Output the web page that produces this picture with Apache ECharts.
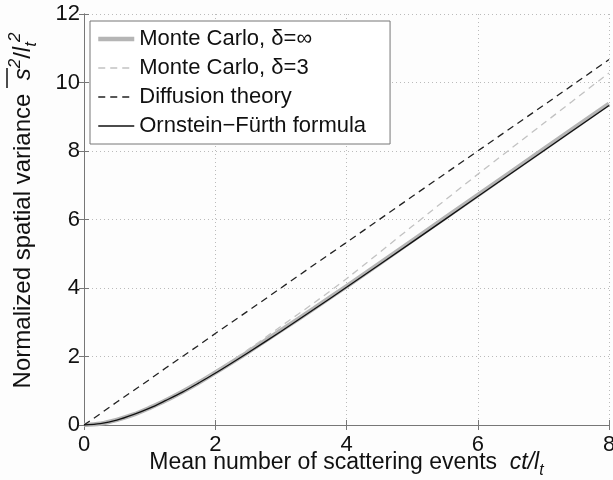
<!DOCTYPE html>
<html>
<head>
<meta charset="utf-8">
<script src="https://cdn.jsdelivr.net/npm/echarts@6/dist/echarts.min.js"></script>
<style>
html,body{margin:0;padding:0;background:#fdfdfd;}
#chart{width:613px;height:480px;}
</style>
</head>
<body>
<div id="chart"></div>
<script>
// Data
const xValues       = [0, 0.25, 0.5, 0.75, 1, 1.25, 1.5, 1.75, 2, 2.5, 3, 3.5, 4, 5, 6, 7, 8];
const mcInfinity    = [0, 0.04, 0.15, 0.30, 0.50, 0.72, 0.97, 1.24, 1.53, 2.13, 2.76, 3.40, 4.05, 5.38, 6.71, 8.05, 9.38];
const mcDelta3      = [0, 0.04, 0.14, 0.30, 0.49, 0.72, 0.97, 1.25, 1.56, 2.20, 2.88, 3.56, 4.27, 5.80, 7.32, 8.80, 10.28];
const diffusion     = [0, 0.33, 0.67, 1.00, 1.33, 1.67, 2.00, 2.33, 2.67, 3.33, 4.00, 4.67, 5.33, 6.67, 8.00, 9.33, 10.67];
const ornsteinFurth = [0, 0.04, 0.14, 0.30, 0.49, 0.72, 0.96, 1.23, 1.51, 2.11, 2.73, 3.37, 4.02, 5.34, 6.67, 8.00, 9.33];
const seriesNames = ['Monte Carlo, δ=∞', 'Monte Carlo, δ=3', 'Diffusion theory', 'Ornstein−Fürth formula'];
const xTicks = [0, 2, 4, 6, 8];
const yTicks = [0, 2, 4, 6, 8, 10, 12];

const pairs = ys => xValues.map((x, i) => [x, ys[i]]);
const FONT = '"Liberation Sans", Arial, Helvetica, sans-serif';

const chart = echarts.init(document.getElementById('chart'), null, {renderer: 'canvas'});

const baseAxis = {
  axisLine: {show: true, lineStyle: {color: '#777', width: 1}},
  axisTick: {show: true, inside: true, length: 5, lineStyle: {color: '#777'}},
  splitLine: {show: false}
};

const styles = [
  {color: '#b5b5b5', width: 4.5, type: 'solid'},
  {color: '#c2c2c2', width: 1.3, type: [7, 5]},
  {color: '#222222', width: 1.3, type: [7, 5]},
  {color: '#111111', width: 1.3, type: 'solid'}
];

chart.setOption({
  backgroundColor: '#fdfdfd',
  animation: false,
  grid: {left: 84, right: 4, top: 14, bottom: 55, containLabel: false, outerBoundsMode: 'none'},
  legend: {
    show: true,
    orient: 'vertical',
    left: 90, top: 21,
    data: seriesNames.map((n, i) => ({name: n, lineStyle: {width: styles[i].width, type: styles[i].type, color: styles[i].color}})),
    backgroundColor: '#ffffff',
    borderColor: '#777', borderWidth: 1,
    padding: [7, 24, 7, 6],
    itemGap: 7,
    itemWidth: 36, itemHeight: 22,
    itemStyle: {opacity: 0},
    textStyle: {fontFamily: FONT, fontSize: 22, color: '#111'}
  },
  graphic: [
    {type: 'line', shape: {x1: 7, y1: 68, x2: 7, y2: 88}, style: {stroke: '#111', lineWidth: 1.5}, silent: true}
  ],
  xAxis: [
    Object.assign({}, baseAxis, {
      type: 'value', min: xTicks[0], max: xTicks[xTicks.length - 1], interval: 2,
      position: 'bottom',
      axisLabel: {fontFamily: FONT, fontSize: 22, color: '#111', margin: 9},
      splitLine: {show: true, lineStyle: {color: '#bbb', type: [1, 3], width: 1}},
      name: '{n|Mean number of scattering events  }{i|ct/l}{sub|t}',
      nameLocation: 'middle', nameGap: 21, nameMoveOverlap: false,
      nameTextStyle: {
        fontFamily: FONT, fontSize: 23, color: '#111',
        rich: {
          n: {fontFamily: FONT, fontSize: 23, color: '#111'},
          i: {fontFamily: FONT, fontSize: 23, fontStyle: 'italic', color: '#111'},
          sub: {fontFamily: FONT, fontSize: 16, fontStyle: 'italic', color: '#111', padding: [17, 0, 0, 0]}
        }
      }
    }),
    Object.assign({}, baseAxis, {
      type: 'value', min: 0, max: 8, interval: 2, position: 'top',
      axisLabel: {show: false}
    })
  ],
  yAxis: [
    Object.assign({}, baseAxis, {
      type: 'value', min: yTicks[0], max: yTicks[yTicks.length - 1], interval: 2,
      position: 'left',
      axisLabel: {fontFamily: FONT, fontSize: 22, color: '#111', margin: 4},
      splitLine: {show: true, lineStyle: {color: '#bbb', type: [1, 3], width: 1}},
      name: '{n|Normalized spatial variance  }{i|s}{sup|2}{n|/}{i|l}{sub|t}{sup|2}',
      nameLocation: 'middle', nameGap: 44, nameRotate: 90, nameMoveOverlap: false,
      nameTextStyle: {
        fontFamily: FONT, fontSize: 24, color: '#111',
        padding: [0, 0, 0, 18],
        rich: {
          n: {fontFamily: FONT, fontSize: 24, color: '#111'},
          i: {fontFamily: FONT, fontSize: 24, fontStyle: 'italic', color: '#111'},
          sup: {fontFamily: FONT, fontSize: 17, fontStyle: 'italic', color: '#111', padding: [0, 0, 15, 0]},
          sub: {fontFamily: FONT, fontSize: 17, fontStyle: 'italic', color: '#111', padding: [17, 0, 0, 0]}
        }
      }
    }),
    Object.assign({}, baseAxis, {
      type: 'value', min: 0, max: 12, interval: 2, position: 'right',
      axisLabel: {show: false}
    })
  ],
  series: seriesNames.map((n, i) => ({
    name: n, type: 'line',
    data: pairs([mcInfinity, mcDelta3, diffusion, ornsteinFurth][i]),
    showSymbol: false, symbol: 'none', smooth: i === 2 ? false : 0.3, z: i + 1,
    lineStyle: styles[i],
    itemStyle: {color: styles[i].color}
  }))
});
</script>
</body>
</html>
